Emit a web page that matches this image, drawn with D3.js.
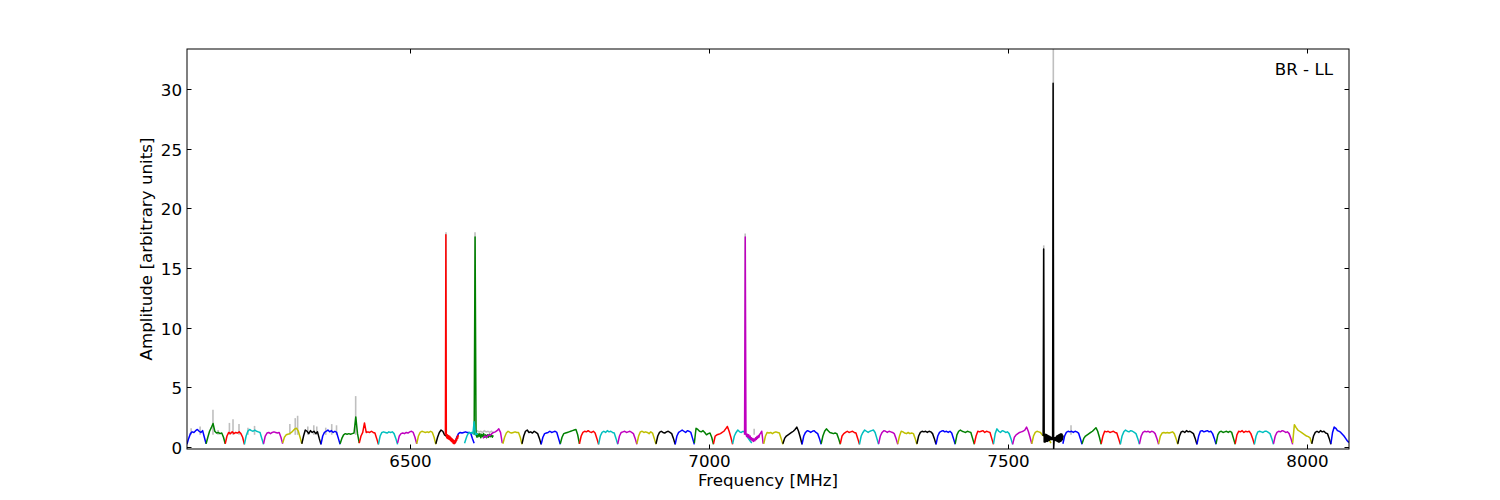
<!DOCTYPE html>
<html>
<head>
<meta charset="utf-8">
<script src="https://cdn.jsdelivr.net/npm/d3@7"></script>
<style>
  html, body { margin: 0; padding: 0; background: #ffffff; }
  svg { display: block; }
  text { font-family: "DejaVu Sans", sans-serif; fill: #000; }
</style>
</head>
<body>
<svg id="chart" width="1500" height="500"></svg>
<script>
// ---------------- data ----------------
const colorCycle = ["#0000ff", "#008000", "#ff0000", "#00bfbf", "#bf00bf", "#bfbf00", "#000000"];

const xTicks = [6500, 7000, 7500, 8000];
const yTicks = [0, 5, 10, 15, 20, 25, 30];

// spectral windows: start / end frequency (MHz), colour index, amplitude samples
const segStart = [6128, 6160, 6192, 6224, 6256, 6288, 6320, 6352, 6384, 6416, 6448, 6480, 6512, 6544,
  6576, 6608, 6560, 6592, 6623,
  6656, 6688, 6720, 6752, 6784, 6816, 6848, 6880, 6912, 6944, 6976, 7008, 7040, 7060,
  7092, 7124, 7156, 7188, 7220, 7252, 7284, 7316, 7348, 7380, 7412, 7444, 7476, 7508, 7540, 7559,
  7592, 7624, 7656, 7688, 7720, 7752, 7784, 7816, 7848, 7880, 7912, 7944, 7976, 8008, 8040];
const segEnd = [6160, 6192, 6224, 6256, 6288, 6320, 6352, 6384, 6416, 6448, 6480, 6512, 6544, 6576,
  6608, 6640, 6582, 6614, 6655,
  6688, 6720, 6752, 6784, 6816, 6848, 6880, 6912, 6944, 6976, 7008, 7040, 7072, 7091,
  7124, 7156, 7188, 7220, 7252, 7284, 7316, 7348, 7380, 7412, 7444, 7476, 7508, 7540, 7572, 7592.4,
  7624, 7656, 7688, 7720, 7752, 7784, 7816, 7848, 7880, 7912, 7944, 7976, 8008, 8040, 8070];
const segColor = [0, 1, 2, 3, 4, 5, 6, 0, 1, 2, 3, 4, 5, 6,
  0, 1, 2, 3, 4,
  5, 6, 0, 1, 2, 3, 4, 5, 6, 0, 1, 2, 3, 4,
  5, 6, 0, 1, 2, 3, 4, 5, 6, 0, 1, 2, 3, 4, 5, 6,
  0, 1, 2, 3, 4, 5, 6, 0, 1, 2, 3, 4, 5, 6, 0];
const segVals = [
  [0.2, 0.7, 1.1, 1.25, 1.2, 1.35, 1.45, 1.3, 1.2, 1.35, 0.8, 0.25],
  [0.25, 0.8, 1.3, 1.6, 1.95, 1.3, 1.15, 1.2, 1.1, 1.15, 0.8, 0.25],
  [0.25, 0.9, 1.2, 1.1, 1.25, 1.1, 1.2, 1.15, 1.25, 1.1, 0.8, 0.2],
  [0.2, 0.9, 1.3, 1.45, 1.35, 1.3, 1.4, 1.3, 1.25, 1.2, 0.7, 0.2],
  [0.25, 0.9, 1.15, 1.2, 1.1, 1.2, 1.25, 1.2, 1.15, 1.2, 0.8, 0.25],
  [0.3, 0.8, 1.0, 1.05, 1.1, 1.2, 1.35, 1.5, 1.55, 1.3, 0.8, 0.25],
  [0.25, 0.9, 1.4, 1.3, 1.1, 1.35, 1.2, 1.3, 1.1, 1.25, 0.7, 0.2],
  [0.2, 0.9, 1.2, 1.3, 1.4, 1.25, 1.35, 1.2, 1.3, 1.2, 0.7, 0.2],
  [0.25, 0.7, 1.0, 1.1, 1.05, 1.1, 1.05, 1.1, 1.15, 2.5, 1.1, 0.3],
  [0.3, 0.9, 1.2, 2.0, 1.2, 1.25, 1.2, 1.3, 1.2, 1.15, 0.7, 0.2],
  [0.2, 0.9, 1.2, 1.25, 1.2, 1.15, 1.25, 1.2, 1.25, 1.1, 0.7, 0.2],
  [0.3, 0.9, 1.1, 1.15, 1.1, 1.2, 1.15, 1.25, 1.3, 1.2, 0.8, 0.25],
  [0.25, 0.9, 1.2, 1.3, 1.25, 1.2, 1.25, 1.2, 1.3, 1.2, 0.8, 0.2],
  [0.25, 0.8, 1.2, 1.4, 1.3, 1.0, 0.9, 0.8, 0.7, 0.6, 0.5, 0.4],
  // special region 6560-6655
  [0.3, 0.8, 1.1, 1.2, 1.15, 1.2, 1.25, 1.2, 1.2, 1.15, 0.7, 0.3],
  [1.0, 17.6, 1.0, 0.8, 1.1, 0.85, 1.1, 0.75, 1.05, 0.85, 1.1, 0.8, 1.0, 0.75, 1.0, 0.8, 1.05, 0.85, 1.0, 0.8, 0.95],
  [1.0, 17.8, 0.95, 0.75, 1.0, 0.7, 0.95, 0.65, 0.9, 0.6, 0.85, 0.55, 0.75, 0.45, 0.7, 0.4, 0.6, 0.3, 0.55, 0.25, 0.45, 0.3, 0.55, 0.4, 0.7, 0.55, 0.85, 0.7, 0.95, 0.85],
  [0.3, 0.6, 0.9, 1.1, 1.2, 1.15, 1.2, 1.1, 2.1, 1.0, 1.1, 1.0],
  [0.7, 0.9, 0.8, 1.0, 0.95, 1.1, 1.2, 1.25, 1.35, 1.5, 1.2, 0.3],
  // regular
  [0.25, 0.8, 1.15, 1.3, 1.2, 1.15, 1.2, 1.25, 1.2, 1.2, 0.8, 0.2],
  [0.25, 0.9, 1.3, 1.4, 1.2, 1.25, 1.15, 1.3, 1.2, 1.1, 0.7, 0.2],
  [0.2, 0.8, 1.1, 1.15, 1.2, 1.3, 1.2, 1.25, 1.3, 1.2, 0.7, 0.2],
  [0.25, 0.8, 1.1, 1.15, 1.2, 1.25, 1.3, 1.35, 1.4, 1.45, 1.0, 0.25],
  [0.25, 0.9, 1.2, 1.3, 1.25, 1.35, 1.25, 1.2, 1.3, 1.15, 0.7, 0.2],
  [0.2, 0.9, 1.2, 1.3, 1.2, 1.35, 1.25, 1.3, 1.2, 1.15, 0.7, 0.2],
  [0.25, 0.9, 1.2, 1.25, 1.3, 1.2, 1.25, 1.3, 1.2, 1.1, 0.7, 0.2],
  [0.25, 0.9, 1.25, 1.3, 1.2, 1.25, 1.2, 1.1, 1.25, 1.15, 0.7, 0.2],
  [0.25, 0.9, 1.2, 1.3, 1.2, 1.15, 1.25, 1.3, 1.2, 1.1, 0.7, 0.2],
  [0.2, 0.9, 1.2, 1.3, 1.4, 1.3, 1.2, 1.35, 1.3, 1.2, 0.7, 0.2],
  [0.3, 1.55, 1.45, 1.3, 1.25, 1.35, 1.2, 1.0, 1.1, 1.15, 0.8, 0.2],
  [0.25, 0.9, 1.0, 1.05, 1.1, 1.2, 1.3, 1.5, 1.7, 1.3, 0.8, 0.2],
  [0.25, 0.9, 1.2, 1.4, 1.25, 1.2, 1.3, 1.2, 1.0, 0.7, 0.5, 0.3],
  [1.0, 17.6, 1.1, 0.85, 1.05, 0.8, 1.0, 0.7, 0.9, 0.6, 0.75, 0.5, 0.7, 0.45, 0.65, 0.5, 0.75, 0.6, 0.85, 0.7, 0.95, 0.8, 1.05, 1.1, 1.2, 1.3, 0.8, 0.25],
  [0.25, 0.9, 1.2, 1.15, 1.2, 1.1, 1.2, 1.25, 1.2, 1.15, 0.7, 0.2],
  [0.25, 0.7, 0.9, 1.0, 1.1, 1.2, 1.3, 1.45, 1.65, 1.3, 0.8, 0.2],
  [0.2, 0.9, 1.2, 1.35, 1.3, 1.2, 1.3, 1.35, 1.2, 1.1, 0.7, 0.2],
  [0.25, 0.9, 1.3, 1.5, 1.35, 1.2, 1.15, 1.1, 1.15, 1.1, 0.7, 0.2],
  [0.25, 0.9, 1.1, 1.2, 1.3, 1.2, 1.25, 1.3, 1.2, 1.15, 0.7, 0.2],
  [0.2, 0.9, 1.2, 1.4, 1.3, 1.2, 1.3, 1.35, 1.4, 1.2, 0.7, 0.2],
  [0.25, 0.9, 1.2, 1.35, 1.3, 1.2, 1.3, 1.25, 1.2, 1.1, 0.7, 0.2],
  [0.25, 0.9, 1.3, 1.25, 1.15, 1.1, 1.2, 1.1, 1.15, 1.1, 0.7, 0.2],
  [0.25, 0.9, 1.2, 1.3, 1.25, 1.3, 1.2, 1.3, 1.25, 1.1, 0.7, 0.2],
  [0.2, 0.9, 1.2, 1.3, 1.35, 1.25, 1.3, 1.2, 1.3, 1.15, 0.7, 0.2],
  [0.25, 1.0, 1.3, 1.4, 1.3, 1.25, 1.2, 1.3, 1.25, 1.2, 0.7, 0.2],
  [0.25, 0.9, 1.3, 1.25, 1.3, 1.35, 1.2, 1.3, 1.25, 1.2, 0.7, 0.2],
  [0.25, 1.1, 1.5, 1.3, 1.2, 1.35, 1.3, 1.2, 1.25, 1.1, 0.7, 0.2],
  [0.2, 0.8, 1.0, 1.1, 1.2, 1.25, 1.3, 1.4, 1.65, 1.3, 0.8, 0.25],
  [0.25, 0.9, 1.2, 1.3, 1.25, 1.2, 1.0, 0.9, 0.8, 0.8, 0.6, 0.3],
  [0.9, 16.6, 0.4, 1.05, 0.4, 1.05, 0.45, 1.0, 0.45, 0.95, 0.5, 0.9, 0.55, 0.85, 0.6, 0.8, 0.6, 0.75, 0.6, 30.5, -0.2, 0.6, 0.75, 0.55, 0.8, 0.5, 0.9, 0.45, 0.95, 0.4, 1.0, 0.4, 1.05, 0.45, 1.1, 0.5, 1.05, 0.6, 0.95],
  [0.25, 0.9, 1.2, 1.3, 1.25, 1.3, 1.2, 1.3, 1.25, 1.15, 0.7, 0.2],
  [0.25, 0.7, 0.9, 1.0, 1.1, 1.2, 1.3, 1.45, 1.6, 1.3, 0.8, 0.2],
  [0.25, 0.9, 1.3, 1.25, 1.3, 1.2, 1.25, 1.3, 1.2, 1.15, 0.7, 0.2],
  [0.2, 0.9, 1.25, 1.4, 1.3, 1.25, 1.35, 1.3, 1.2, 1.1, 0.7, 0.2],
  [0.25, 0.9, 1.2, 1.3, 1.25, 1.3, 1.2, 1.3, 1.25, 1.1, 0.7, 0.2],
  [0.25, 0.9, 1.15, 1.2, 1.15, 1.2, 1.15, 1.2, 1.25, 1.1, 0.7, 0.2],
  [0.25, 0.9, 1.25, 1.3, 1.2, 1.35, 1.25, 1.3, 1.2, 1.1, 0.7, 0.2],
  [0.2, 0.9, 1.3, 1.35, 1.25, 1.3, 1.35, 1.25, 1.3, 1.1, 0.7, 0.2],
  [0.25, 1.0, 1.25, 1.3, 1.2, 1.25, 1.3, 1.2, 1.3, 1.2, 0.7, 0.2],
  [0.25, 1.0, 1.3, 1.25, 1.35, 1.2, 1.3, 1.25, 1.3, 1.1, 0.7, 0.2],
  [0.2, 0.9, 1.25, 1.3, 1.25, 1.2, 1.3, 1.3, 1.2, 1.1, 0.7, 0.2],
  [0.25, 0.9, 1.2, 1.3, 1.25, 1.35, 1.3, 1.2, 1.25, 1.1, 0.7, 0.2],
  [0.3, 1.85, 1.6, 1.4, 1.3, 1.2, 1.1, 1.0, 0.9, 0.85, 0.75, 0.25],
  [0.25, 0.9, 1.2, 1.3, 1.2, 1.35, 1.25, 1.3, 1.15, 1.1, 0.7, 0.2],
  [0.25, 1.2, 1.65, 1.55, 1.35, 1.3, 1.2, 1.05, 0.9, 0.7, 0.5, 0.35]
];

// unflagged (grey) data peaks that stick out above the coloured data
const graySpikeFreq = [6135, 6150, 6171.5, 6180, 6199, 6205, 6215, 6230, 6241, 6300, 6309, 6313, 6330, 6340, 6345, 6360, 6370, 6378, 6410,
  6561, 6609.5, 7061, 7076, 7560, 7576, 7605.6];
const graySpikePeak = [1.55, 1.7, 3.1, 1.4, 2.0, 2.3, 1.9, 1.6, 1.75, 1.9, 2.4, 2.6, 1.7, 1.8, 1.7, 1.6, 1.9, 1.8, 4.25,
  18.0, 18.0, 17.9, 1.5, 16.9, 34.0, 1.8];
const grayBandStart = 6604;
const grayBandEnd = 6640;
const grayBandVals = [1.1, 1.3, 1.2, 1.35, 1.25, 1.3, 1.2, 1.35, 1.25, 1.3, 1.2, 1.3, 1.15];

const panelLabel = "BR - LL";

// ---------------- drawing ----------------
const svg = d3.select("#chart");
const L = 187, R = 1349, T = 49, B = 449;
const FS = 16.7;

const x = d3.scaleLinear().domain([6128.1, 8070.2]).range([L, R]);
const y = d3.scaleLinear().domain([-0.19, 33.38]).range([B, T]);

svg.append("defs").append("clipPath").attr("id", "clip")
  .append("rect").attr("x", L).attr("y", T).attr("width", R - L).attr("height", B - T);

const plot = svg.append("g").attr("clip-path", "url(#clip)");
const line = d3.line().x(d => x(d[0])).y(d => y(d[1]));

// grey band
const gb = grayBandVals.map((v, i) => [grayBandStart + (grayBandEnd - grayBandStart) * i / (grayBandVals.length - 1), v]);
plot.append("path").attr("d", line(gb)).attr("fill", "none").attr("stroke", "#bfbfbf").attr("stroke-width", 1.5);

// grey spikes
graySpikeFreq.forEach((f, i) => {
  plot.append("path").attr("d", line([[f, 1.0], [f, graySpikePeak[i]]]))
    .attr("fill", "none").attr("stroke", "#bfbfbf").attr("stroke-width", 1.6);
});

// coloured windows
segVals.forEach((vals, i) => {
  const s = segStart[i], e = segEnd[i], n = vals.length;
  const pts = vals.map((v, j) => [s + (e - s) * j / (n - 1), v]);
  plot.append("path").attr("d", line(pts))
    .attr("fill", "none").attr("stroke", colorCycle[segColor[i]])
    .attr("stroke-width", 1.5).attr("stroke-linejoin", "round");
});

// frame
svg.append("rect").attr("x", L).attr("y", T).attr("width", R - L).attr("height", B - T)
  .attr("fill", "none").attr("stroke", "#000").attr("stroke-width", 1);

// ticks (inward, on all four sides)
const tl = 4.5;
xTicks.forEach(t => {
  const px = Math.round(x(t)) + 0.5;
  svg.append("line").attr("x1", px).attr("x2", px).attr("y1", B).attr("y2", B - tl).attr("stroke", "#000");
  svg.append("line").attr("x1", px).attr("x2", px).attr("y1", T).attr("y2", T + tl).attr("stroke", "#000");
  svg.append("text").attr("x", px).attr("y", 467).attr("text-anchor", "middle")
    .attr("font-size", FS).text(t);
});
yTicks.forEach(t => {
  const py = Math.round(y(t)) + 0.5;
  svg.append("line").attr("x1", L).attr("x2", L + tl).attr("y1", py).attr("y2", py).attr("stroke", "#000");
  svg.append("line").attr("x1", R).attr("x2", R - tl).attr("y1", py).attr("y2", py).attr("stroke", "#000");
  svg.append("text").attr("x", 182).attr("y", py + 6).attr("text-anchor", "end")
    .attr("font-size", FS).text(t);
});

// axis labels
svg.append("text").attr("x", (L + R) / 2).attr("y", 486).attr("text-anchor", "middle")
  .attr("font-size", FS).text("Frequency [MHz]");
svg.append("text").attr("transform", `translate(152,${(T + B) / 2}) rotate(-90)`)
  .attr("text-anchor", "middle").attr("font-size", FS).text("Amplitude [arbitrary units]");

// panel label
svg.append("text").attr("x", 1333).attr("y", 75).attr("text-anchor", "end")
  .attr("font-size", FS).text(panelLabel);
</script>
</body>
</html>
